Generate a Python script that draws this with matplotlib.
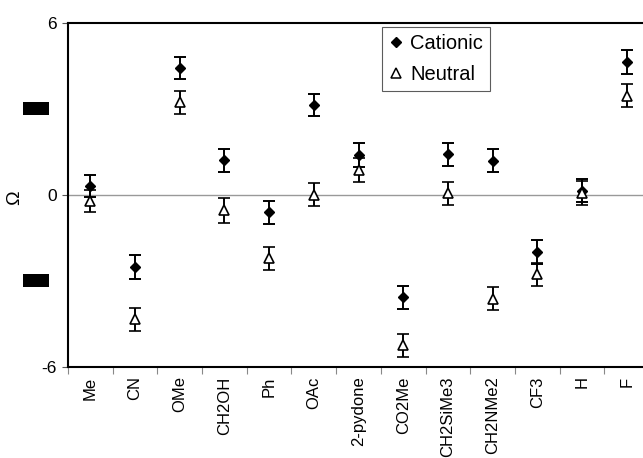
import matplotlib
matplotlib.use("Agg")
import matplotlib.pyplot as plt
import matplotlib.transforms as mtransforms
from matplotlib.lines import Line2D
from matplotlib.patches import Rectangle
import numpy as np

plt.rcParams['font.family'] = ['Liberation Sans', 'DejaVu Sans']

# substituents and Omega values
groups = ['Me', 'CN', 'OMe', 'CH2OH', 'Ph', 'OAc', '2-pydone', 'CO2Me',
          'CH2SiMe3', 'CH2NMe2', 'CF3', 'H', 'F']
cationic = [0.30, -2.52, 4.42, 1.20, -0.62, 3.12, 1.38, -3.57, 1.41, 1.19, -1.99, 0.14, 4.63]
cationic_err = [0.38, 0.43, 0.39, 0.40, 0.40, 0.39, 0.43, 0.40, 0.40, 0.40, 0.41, 0.41, 0.42]
neutral = [-0.23, -4.35, 3.23, -0.55, -2.21, 0.00, 0.86, -5.26, 0.05, -3.63, -2.78, 0.06, 3.46]
neutral_err = [0.38, 0.39, 0.40, 0.43, 0.40, 0.41, 0.41, 0.39, 0.40, 0.40, 0.39, 0.41, 0.39]

x = np.arange(len(groups))

fig = plt.figure(figsize=(6.43, 4.58), dpi=100)
ax = fig.add_axes([68 / 643, 1 - 366.7 / 458, 581 / 643, 344 / 458])

ax.axhline(0, color='#999999', lw=1.0, zorder=1)

ax.errorbar(x, cationic, yerr=cationic_err, fmt='D', ms=5.4, mfc='black', mec='black',
            ecolor='black', elinewidth=1.4, capsize=4.3, capthick=1.4, zorder=3)
ax.errorbar(x, neutral, yerr=neutral_err, fmt='^', ms=6.8, mfc='white', mec='black',
            mew=1.2, ecolor='black', elinewidth=1.4, capsize=4.3, capthick=1.4, zorder=3)

ax.set_xlim(-0.5, len(groups) - 0.5)
ax.set_ylim(-6, 6)

ax.set_yticks([-6, 0, 6])
ax.set_yticklabels(['-6', '0', '6'], fontsize=12.5)
ax.tick_params(axis='y', length=4, width=0.8, color='#555555', pad=4)

ax.set_xticks(x)
ax.set_xticklabels(groups, rotation=90, fontsize=12)
ax.tick_params(axis='x', which='major', length=0, pad=7)
ax.set_xticks(np.arange(len(groups) + 1) - 0.5, minor=True)
ax.tick_params(axis='x', which='minor', length=5, width=0.8, color='#888888')

ax.set_ylabel('Ω', fontsize=14)
ax.yaxis.set_label_coords(-0.078, 0.49)

for side in ['left', 'bottom', 'top']:
    ax.spines[side].set_linewidth(1.5)
    ax.spines[side].set_color('black')
ax.spines['right'].set_visible(False)

# blacked-out tick labels at +3 and -3
trans = mtransforms.blended_transform_factory(ax.transAxes, ax.transData)
for yv in [3, -3]:
    ax.add_patch(Rectangle((-45.3 / 581, yv - 0.22), 26.3 / 581, 0.44, transform=trans,
                           facecolor='black', edgecolor='none', clip_on=False))

handles = [Line2D([], [], ls='none', marker='D', ms=5, mfc='black', mec='black'),
           Line2D([], [], ls='none', marker='^', ms=6.5, mfc='white', mec='black', mew=1.1)]
leg = ax.legend(handles, ['Cationic', 'Neutral'], loc='upper left',
                bbox_to_anchor=(0.540, 0.9875), fontsize=14.5, frameon=True,
                fancybox=False, borderpad=0.35, labelspacing=0.6,
                handlelength=0.7, handletextpad=0.35, borderaxespad=0)
leg.get_frame().set_edgecolor('#333333')
leg.get_frame().set_linewidth(0.8)

fig.savefig('out.png', dpi=100)
